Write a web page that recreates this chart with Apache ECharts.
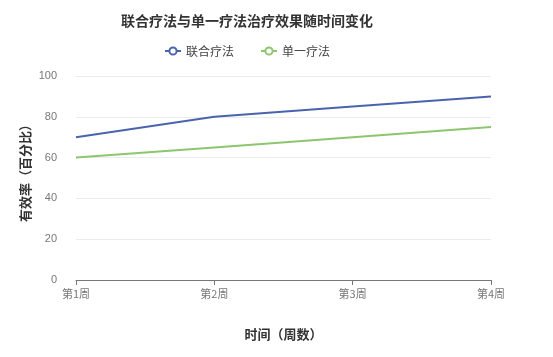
<!DOCTYPE html>
<html><head><meta charset="utf-8">
<script src="https://cdn.jsdelivr.net/npm/echarts@6/dist/echarts.min.js"></script>
<style>html,body{margin:0;padding:0;background:#fff}#c{width:553px;height:357px}</style>
</head><body><div id="c"></div>
<script>
const categories = ['第1周','第2周','第3周','第4周'];
const combined = [70, 80, 85, 90];
const single = [60, 65, 70, 75];
const chart = echarts.init(document.getElementById('c'));
chart.setOption({
  animation: false,
  title: { text: '联合疗法与单一疗法治疗效果随时间变化', left: 116, top: 9,
    textStyle: { fontSize: 14, fontWeight: 'bold', color: '#333', fontFamily: 'Noto Sans CJK SC' } },
  legend: { top: 40, left: 159, itemGap: 26, itemWidth: 16, itemHeight: 9,
    textStyle: { fontSize: 12, color: '#444', fontFamily: 'Noto Sans CJK SC' },
    data: ['联合疗法','单一疗法'] },
  grid: { left: 76, right: 62, top: 76, bottom: 77 },
  xAxis: { type: 'category', data: categories, boundaryGap: false,
    name: '时间（周数）', nameLocation: 'middle', nameGap: 48, nameMoveOverlap: false,
    nameTextStyle: { fontSize: 13, fontWeight: 'bold', color: '#333', fontFamily: 'Noto Sans CJK SC' },
    axisLabel: { color: '#777', fontSize: 11, fontFamily: 'Noto Sans CJK SC' },
    axisLine: { lineStyle: { color: '#777' } }, axisTick: { alignWithLabel: true } },
  yAxis: { type: 'value', min: 0, max: 100, interval: 20,
    name: '有效率（百分比）', nameLocation: 'middle', nameGap: 44, nameMoveOverlap: false,
    nameTextStyle: { fontSize: 13, fontWeight: 'bold', color: '#333', fontFamily: 'Noto Sans CJK SC', padding: [0, 0, 0, 16] },
    axisLabel: { color: '#777', fontSize: 11, margin: 19 },
    splitLine: { lineStyle: { color: '#ebebeb' } } },
  series: [
    { name: '联合疗法', type: 'line', data: combined, showSymbol: false, itemStyle: { color: '#4964ad' }, lineStyle: { width: 2 } },
    { name: '单一疗法', type: 'line', data: single, showSymbol: false, itemStyle: { color: '#8cc66e' }, lineStyle: { width: 2 } }
  ]
});
</script></body></html>
